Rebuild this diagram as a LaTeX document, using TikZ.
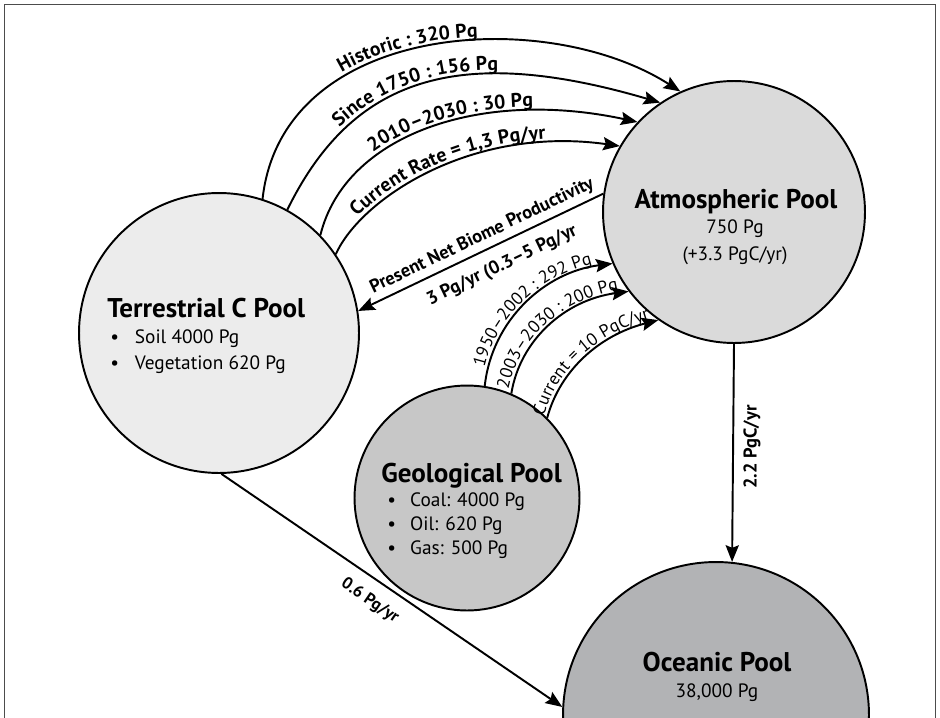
\documentclass[tikz,border=0pt]{standalone}
\usepackage{fontspec}
\setmainfont{PT Sans}
\usetikzlibrary{arrows.meta,decorations.text}
\definecolor{terrc}{gray}{0.925}
\definecolor{atmc}{gray}{0.855}
\definecolor{geoc}{gray}{0.78}
\definecolor{oceanc}{RGB}{178,179,181}
\definecolor{framec}{gray}{0.3}
\newcommand{\arclbl}{\bfseries\fontsize{11.2}{13}\selectfont}
\newcommand{\arclblr}{\fontsize{10}{12}\selectfont}
\begin{document}
\begin{tikzpicture}[x=0.02cm,y=-0.02cm,
  pool/.style={circle, draw=black, line width=1.1pt, inner sep=0pt},
  arr/.style={line width=1.1pt, -{Stealth[length=9.5pt,width=7.5pt,inset=1.5pt]}},
  ttl/.style={font=\bfseries\fontsize{15.4}{17}\selectfont, inner sep=0pt},
  body/.style={font=\fontsize{11}{13}\selectfont, inner sep=0pt},
  lbl/.style={font=\bfseries\fontsize{10.5}{12}\selectfont, inner sep=0pt},
  lbls/.style={font=\bfseries\fontsize{9.5}{11}\selectfont, inner sep=0pt}
]
\useasboundingbox (0,0) rectangle (940,717);
\clip (0,0) rectangle (940,717);
\draw[framec, line width=1pt] (4.5,730) -- (4.5,4.5) -- (935.5,4.5) -- (935.5,730);

% pools
\node[pool, fill=terrc, minimum size=5.6cm] (ter) at (219,333) {};
\node[pool, fill=atmc, minimum size=5.24cm] (atm) at (734,212) {};
\node[pool, fill=geoc, minimum size=4.5cm] (geo) at (467,498) {};
\node[pool, fill=oceanc, minimum size=6.12cm] (ocean) at (716,715) {};

% texts
\node[ttl, anchor=base west] (terT) at (107,317) {Terrestrial C Pool};
\node[body, anchor=base west] (terL1) at (110,343) {\makebox[14pt][l]{\textbullet}Soil 4000 Pg};
\node[body, anchor=base west] (terL2) at (110,369) {\makebox[14pt][l]{\textbullet}Vegetation 620 Pg};

\node[ttl, anchor=base] (atmT) at (736,208) {Atmospheric Pool};
\node[body, anchor=base] (atmL1) at (735,233) {750 Pg};
\node[body, anchor=base] (atmL2) at (735,260) {(+3.3 PgC/yr)};

\node[ttl, anchor=base west] (geoT) at (381,482) {Geological Pool};
\node[body, anchor=base west] (geoL1) at (387,506) {\makebox[13pt][l]{\textbullet}Coal: 4000 Pg};
\node[body, anchor=base west] (geoL2) at (387,530) {\makebox[13pt][l]{\textbullet}Oil: 620 Pg};
\node[body, anchor=base west] (geoL3) at (387,554) {\makebox[13pt][l]{\textbullet}Gas: 500 Pg};

\node[ttl, anchor=base] (oceanT) at (717,671) {Oceanic Pool};
\node[body, anchor=base] (oceanL1) at (717,697) {38,000 Pg};

% terrestrial -> atmosphere arcs
\draw[arr, postaction={decorate, decoration={text along path, text={|\arclbl|Historic : 320 Pg}, text align={left indent=87pt}, raise=2.5pt}}]
  (ter.72) .. controls (282,22) and (545,5) .. (atm.114);
\draw[arr, postaction={decorate, decoration={text along path, text={|\arclbl|Since 1750 : 156 Pg}, text align={left indent=55pt}, raise=2.5pt}}]
  (ter.61) .. controls (352,78) and (457,43) .. (atm.124);
\draw[arr, postaction={decorate, decoration={text along path, text={|\arclbl|2010–2030 : 30 Pg}, text align={left indent=56pt}, raise=2.5pt}}]
  (ter.44) .. controls (345,135) and (480,88) .. (atm.137);
\draw[arr, postaction={decorate, decoration={text along path, text={|\arclbl|Current Rate = 1,3 Pg/yr}, text align={left indent=24pt}, raise=2.5pt}}]
  (ter.34) .. controls (360,200) and (470,125) .. (atm.150);

% net biome productivity
\draw[arr] (atm.172) -- (ter.9);
\path (ter.9) -- (atm.172)
  node[lbl, pos=.53, sloped, above=3pt] (bioA) {Present Net Biome Productivity}
  node[lbl, pos=.55, sloped, below=7pt] (bioB) {3 Pg/yr (0.3–5 Pg/yr};

% geological -> atmosphere arcs
\draw[arr, postaction={decorate, decoration={text along path, text={|\arclblr|1950–2002 : 292 Pg}, text align={left indent=10pt}, raise=2pt}}]
  (geo.81) .. controls (492,320) and (545,272) .. (atm.203);
\draw[arr, postaction={decorate, decoration={text along path, text={|\arclblr|2003–2030 : 200 Pg}, text align={left indent=2pt}, raise=2pt}}]
  (geo.67) .. controls (520,340) and (565,300) .. (atm.217);
\draw[arr, postaction={decorate, decoration={text along path, text={|\arclblr|Current = 10 PgC/yr}, text align={left indent=0pt}, raise=2pt}}]
  (geo.45) .. controls (560,370) and (600,335) .. (atm.235);

% atmosphere -> ocean
\draw[arr] (atm.south) -- (ocean.84);
\node[lbl, rotate=90] (l22) at (752,447) {2.2 PgC/yr};

% terrestrial -> ocean
\draw[arr] (ter.271) -- (ocean.177)
  node[lbls, pos=.47, sloped, below=7pt] (l06) {0.6 Pg/yr};
\end{tikzpicture}
\end{document}
